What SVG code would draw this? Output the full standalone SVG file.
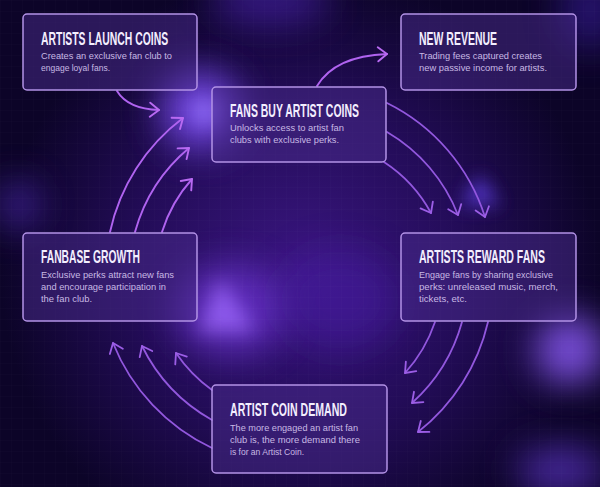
<svg xmlns="http://www.w3.org/2000/svg" width="600" height="487" viewBox="0 0 600 487">
<defs>
<style>
.box{fill:#4a2b8c;fill-opacity:0.5;stroke:#b392e6;stroke-width:1.5}
.title{font-family:"Liberation Sans",Arial,sans-serif;font-weight:bold;font-size:18.5px;fill:#f3eefe}
.desc{font-family:"Liberation Sans",Arial,sans-serif;font-size:9.1px;fill:#c8b9e4}
.arc{fill:none;stroke:#9257de;stroke-width:1.8;stroke-linecap:round;marker-end:url(#ah)}
.arcb{fill:none;stroke:#b063f0;stroke-width:1.9;stroke-linecap:round;marker-end:url(#ahb)}
</style>
<marker id="ah" markerUnits="userSpaceOnUse" markerWidth="20" markerHeight="20" refX="0" refY="0" orient="auto" overflow="visible">
<path d="M-9,-7 L0,0 L-9,7" fill="none" stroke="#9c5ee6" stroke-width="1.8" stroke-linecap="round" stroke-linejoin="round"/>
</marker>
<marker id="ahb" markerUnits="userSpaceOnUse" markerWidth="20" markerHeight="20" refX="0" refY="0" orient="auto" overflow="visible">
<path d="M-9,-7 L0,0 L-9,7" fill="none" stroke="#b96af2" stroke-width="1.9" stroke-linecap="round" stroke-linejoin="round"/>
</marker>
<radialGradient id="bgglow" cx="300" cy="270" r="300" gradientUnits="userSpaceOnUse">
<stop offset="0" stop-color="#3a1680"/>
<stop offset="0.55" stop-color="#230c58"/>
<stop offset="1" stop-color="#0c0428"/>
</radialGradient>
<pattern id="grid" width="11" height="11" patternUnits="userSpaceOnUse">
<path d="M11,0 L0,0 L0,11" fill="none" stroke="#ffffff" stroke-opacity="0.045" stroke-width="0.6"/>
</pattern>
<filter id="blur20" x="-100%" y="-100%" width="300%" height="300%"><feGaussianBlur stdDeviation="18"/></filter>
<filter id="blur10" x="-100%" y="-100%" width="300%" height="300%"><feGaussianBlur stdDeviation="9"/></filter>
</defs>

<g id="background">
<rect width="600" height="487" fill="url(#bgglow)"/>
<ellipse cx="270" cy="0" rx="60" ry="25" fill="#5a2ad0" opacity="0.5" filter="url(#blur20)"/>
<ellipse cx="200" cy="110" rx="40" ry="40" fill="#7a4ef0" opacity="0.85" filter="url(#blur20)"/>
<ellipse cx="205" cy="112" rx="14" ry="14" fill="#9a78ff" opacity="0.6" filter="url(#blur10)"/>
<polygon points="220,280 255,330 200,330" fill="#b58cff" opacity="0.9" filter="url(#blur10)"/>
<ellipse cx="230" cy="310" rx="55" ry="45" fill="#7a3ee8" opacity="0.6" filter="url(#blur20)"/>
<polygon points="480,175 500,205 460,205" fill="#5a3bd8" opacity="0.85" filter="url(#blur10)"/>
<ellipse cx="18" cy="205" rx="20" ry="25" fill="#5b32d0" opacity="0.6" filter="url(#blur20)"/>
<ellipse cx="570" cy="350" rx="35" ry="35" fill="#8a5af5" opacity="0.85" filter="url(#blur20)"/>
<ellipse cx="560" cy="470" rx="45" ry="25" fill="#6a3de0" opacity="0.6" filter="url(#blur20)"/>
<ellipse cx="340" cy="300" rx="60" ry="50" fill="#4a1ea8" opacity="0.5" filter="url(#blur20)"/>
<ellipse cx="590" cy="10" rx="30" ry="40" fill="#4020b0" opacity="0.5" filter="url(#blur20)"/>
<rect width="600" height="487" fill="url(#grid)"/>
</g>

<g id="connectors">
<path class="arcb" d="M117,91 Q128,109 159,110"/>
<path class="arcb" d="M317,86 Q335,56 387,54"/>
<path class="arc" d="M387,103 A192,192 0 0 1 485,217"/>
<path class="arc" d="M387,132 A166,166 0 0 1 458,215"/>
<path class="arc" d="M384,162 A142,142 0 0 1 431,213"/>
<path class="arc" d="M435,322 A145,145 0 0 1 405,373"/>
<path class="arc" d="M462,322 A170,170 0 0 1 412,403"/>
<path class="arc" d="M488,322 A196,196 0 0 1 418,432"/>
<path class="arc" d="M212,448 A197,197 0 0 1 113,343"/>
<path class="arc" d="M212,420 A172,172 0 0 1 142,346"/>
<path class="arc" d="M212,390 A147,147 0 0 1 176,353"/>
<path class="arcb" d="M110,232 A194,194 0 0 1 183,118"/>
<path class="arcb" d="M135,232 A168,168 0 0 1 189,148"/>
<path class="arcb" d="M162,232 A143,143 0 0 1 192,179"/>
</g>

<g id="node-artists-launch-coins">
<rect class="box" x="23" y="14" width="174" height="76" rx="4"/>
<text class="title" transform="translate(41,45) scale(0.6,1)" textLength="212" lengthAdjust="spacingAndGlyphs">ARTISTS LAUNCH COINS</text>
<text class="desc" x="41" y="59" textLength="131" lengthAdjust="spacingAndGlyphs">Creates an exclusive fan club to</text>
<text class="desc" x="41" y="71" textLength="69" lengthAdjust="spacingAndGlyphs">engage loyal fans.</text>
</g>

<g id="node-fans-buy-artist-coins">
<rect class="box" x="212" y="87" width="174" height="75" rx="4"/>
<text class="title" transform="translate(230,117) scale(0.6,1)" textLength="215" lengthAdjust="spacingAndGlyphs">FANS BUY ARTIST COINS</text>
<text class="desc" x="230" y="131" textLength="114" lengthAdjust="spacingAndGlyphs">Unlocks access to artist fan</text>
<text class="desc" x="230" y="143" textLength="109" lengthAdjust="spacingAndGlyphs">clubs with exclusive perks.</text>
</g>

<g id="node-new-revenue">
<rect class="box" x="401" y="14" width="175" height="76" rx="4"/>
<text class="title" transform="translate(419,45) scale(0.6,1)" textLength="130" lengthAdjust="spacingAndGlyphs">NEW REVENUE</text>
<text class="desc" x="419" y="59" textLength="123" lengthAdjust="spacingAndGlyphs">Trading fees captured creates</text>
<text class="desc" x="419" y="71" textLength="128" lengthAdjust="spacingAndGlyphs">new passive income for artists.</text>
</g>

<g id="node-fanbase-growth">
<rect class="box" x="23" y="233" width="174" height="88" rx="4"/>
<text class="title" transform="translate(41,263) scale(0.6,1)" textLength="165" lengthAdjust="spacingAndGlyphs">FANBASE GROWTH</text>
<text class="desc" x="41" y="278" textLength="133" lengthAdjust="spacingAndGlyphs">Exclusive perks attract new fans</text>
<text class="desc" x="41" y="290" textLength="125" lengthAdjust="spacingAndGlyphs">and encourage participation in</text>
<text class="desc" x="41" y="302" textLength="51" lengthAdjust="spacingAndGlyphs">the fan club.</text>
</g>

<g id="node-artists-reward-fans">
<rect class="box" x="401" y="233" width="175" height="88" rx="4"/>
<text class="title" transform="translate(419,263) scale(0.6,1)" textLength="210" lengthAdjust="spacingAndGlyphs">ARTISTS REWARD FANS</text>
<text class="desc" x="419" y="278" textLength="134" lengthAdjust="spacingAndGlyphs">Engage fans by sharing exclusive</text>
<text class="desc" x="419" y="290" textLength="139" lengthAdjust="spacingAndGlyphs">perks: unreleased music, merch,</text>
<text class="desc" x="419" y="302" textLength="48" lengthAdjust="spacingAndGlyphs">tickets, etc.</text>
</g>

<g id="node-artist-coin-demand">
<rect class="box" x="212" y="385" width="175" height="88" rx="4"/>
<text class="title" transform="translate(230,416) scale(0.6,1)" textLength="195" lengthAdjust="spacingAndGlyphs">ARTIST COIN DEMAND</text>
<text class="desc" x="230" y="431" textLength="128" lengthAdjust="spacingAndGlyphs">The more engaged an artist fan</text>
<text class="desc" x="230" y="443" textLength="130" lengthAdjust="spacingAndGlyphs">club is, the more demand there</text>
<text class="desc" x="230" y="455" textLength="74" lengthAdjust="spacingAndGlyphs">is for an Artist Coin.</text>
</g>
</svg>
